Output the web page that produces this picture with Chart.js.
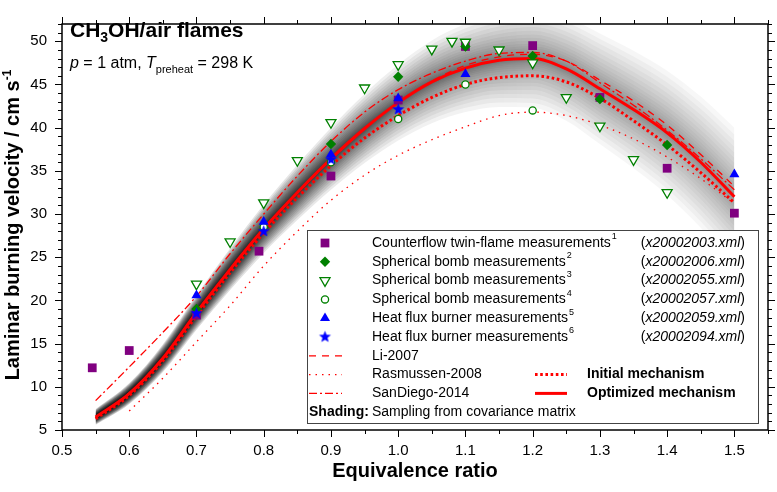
<!DOCTYPE html>
<html lang="en">
<head>
<meta charset="UTF-8">
<title>CH3OH/air flames</title>
<script src="https://cdn.jsdelivr.net/npm/chart.js"></script>
<style>
  html, body { margin: 0; padding: 0; background: #fff; }
</style>
</head>
<body>
<canvas id="flameChart" width="777" height="492"></canvas>
<script>
// ---- model curves (equivalence ratio grid) ----
const curvePhi = [0.55, 0.6, 0.65, 0.7, 0.75, 0.8, 0.85, 0.9, 0.95, 1.0, 1.05, 1.1, 1.15, 1.2, 1.25, 1.3, 1.35, 1.4, 1.45, 1.5];
const optimizedVel = [6.5, 9.2, 13.3, 18.6, 23.6, 28.3, 32.5, 36.4, 39.9, 42.9, 45.3, 46.9, 47.8, 48.0, 46.8, 44.5, 42.1, 39.4, 36.0, 32.0];
const initialVel = [6.3, 9.0, 13.0, 18.2, 23.2, 27.8, 31.9, 35.6, 38.8, 41.4, 43.5, 45.0, 45.8, 46.0, 45.3, 43.4, 40.8, 38.0, 34.8, 31.3];
const li2007Vel = [6.4, 9.3, 13.3, 18.5, 23.5, 28.2, 32.4, 36.3, 39.8, 42.9, 45.4, 47.2, 48.2, 48.5, 47.7, 45.5, 43.1, 40.3, 36.9, 33.2];
const sanDiegoVel = [8.4, 12.3, 16.3, 20.5, 25.4, 30.0, 34.4, 38.4, 41.8, 44.4, 46.3, 47.7, 48.6, 48.7, 47.7, 45.2, 42.6, 39.7, 36.4, 32.8];
const rasmussenPhi = [0.6, 0.65, 0.7, 0.75, 0.8, 0.85, 0.9, 0.95, 1.0, 1.05, 1.1, 1.15, 1.2, 1.25, 1.3, 1.35, 1.4, 1.45, 1.5];
const rasmussenVel = [7.2, 11.0, 15.2, 19.4, 24.0, 28.0, 31.6, 34.5, 36.8, 38.6, 40.1, 41.4, 41.8, 41.4, 40.3, 38.7, 36.6, 34.1, 31.2];
// half width of the sampled (covariance) band around the optimized curve
const shadeSpread = [0.9, 1.2, 1.6, 2.0, 2.4, 2.8, 3.2, 3.6, 4.0, 4.4, 4.8, 5.1, 5.4, 5.7, 6.0, 6.4, 6.8, 7.2, 7.6, 8.0];

// ---- measurements ----
const cfPhi = [0.545, 0.6, 0.7, 0.793, 0.9, 1.0, 1.1, 1.2, 1.3, 1.4, 1.5];
const cfVel = [12.2, 14.2, 18.3, 25.7, 34.4, 43.2, 49.4, 49.5, 43.5, 35.3, 30.1];
const sb2Phi = [0.7, 0.9, 1.0, 1.1, 1.2, 1.3, 1.4];
const sb2Vel = [19.0, 38.1, 45.9, 49.4, 48.3, 43.3, 38.0];
const sb3Phi = [0.7, 0.75, 0.8, 0.85, 0.9, 0.95, 1.0, 1.05, 1.08, 1.1, 1.15, 1.2, 1.25, 1.3, 1.35, 1.4];
const sb3Vel = [21.9, 26.8, 31.3, 36.2, 40.6, 44.6, 47.3, 49.1, 50.0, 49.9, 49.0, 47.5, 43.5, 40.2, 36.3, 32.5];
const sb4Phi = [0.8, 0.9, 1.0, 1.1, 1.2];
const sb4Vel = [28.5, 36.0, 41.0, 45.0, 42.0];
const hf5Phi = [0.7, 0.8, 0.9, 1.0, 1.1, 1.5];
const hf5Vel = [20.6, 29.1, 36.9, 43.4, 46.2, 34.6];
const hf6Phi = [0.7, 0.8, 0.9, 1.0];
const hf6Vel = [18.5, 28.0, 36.3, 42.1];

const FONT = '"Liberation Sans", Arial, sans-serif';
const PURPLE = '#800080', GREEN = '#008000', BLUE = '#0000ff', RED = '#ff0000';

function pts(xs, ys) {
    return xs.map((x, i) => ({ x: x, y: ys[i] }));
}

function makeStar(r, color) {
    let c = document.createElement('canvas');
    let s = Math.ceil(r * 2 + 2);
    c.width = s; c.height = s;
    let g = c.getContext('2d');
    g.fillStyle = color;
    g.beginPath();
    for (let i = 0; i < 10; i++) {
        let rr = i % 2 ? r * 0.42 : r;
        let a = -Math.PI / 2 + i * Math.PI / 5;
        g.lineTo(s / 2 + rr * Math.cos(a), s / 2 + rr * Math.sin(a));
    }
    g.closePath();
    g.fill();
    return c;
}
const starImg = makeStar(6.3, BLUE);

// grey fill that gets lighter towards rich mixtures
function shadeFill(context) {
    let chart = context.chart;
    if (!chart.chartArea) return 'rgba(0,0,0,0.05)';
    let xs = chart.scales.x;
    let g = chart.ctx.createLinearGradient(xs.getPixelForValue(0.55), 0, xs.getPixelForValue(1.5), 0);
    g.addColorStop(0, 'rgba(0,0,0,0.2)');
    g.addColorStop(0.26, 'rgba(0,0,0,0.11)');
    g.addColorStop(0.47, 'rgba(0,0,0,0.06)');
    g.addColorStop(0.68, 'rgba(0,0,0,0.04)');
    g.addColorStop(1, 'rgba(0,0,0,0.03)');
    return g;
}

let datasets = [];
const nBands = 20;
for (let k = nBands; k >= 1; k--) {
    // bands packed towards the curve so the grey fades out softly
    let f = Math.pow(k / nBands, 2);
    datasets.push({
        data: pts(curvePhi, optimizedVel.map((v, i) => v + shadeSpread[i] * f)),
        fill: '+1', backgroundColor: shadeFill, borderColor: 'transparent', borderWidth: 0,
        pointRadius: 0, cubicInterpolationMode: 'monotone', order: 100
    });
    datasets.push({
        data: pts(curvePhi, optimizedVel.map((v, i) => v - shadeSpread[i] * f)),
        fill: false, borderColor: 'transparent', borderWidth: 0,
        pointRadius: 0, cubicInterpolationMode: 'monotone', order: 100
    });
}

function curve(label, xs, ys, dash, width, order) {
    return {
        label: label, data: pts(xs, ys), borderColor: RED, borderWidth: width, borderDash: dash,
        pointRadius: 0, fill: false, cubicInterpolationMode: 'monotone', order: order
    };
}
const rasmussenSet = curve('Rasmussen-2008', rasmussenPhi, rasmussenVel, [1.5, 5], 1.3, 14);
const sanDiegoSet = curve('SanDiego-2014', curvePhi, sanDiegoVel, [8, 3, 2, 3], 1.3, 13);
const liSet = curve('Li-2007', curvePhi, li2007Vel, [7, 6], 1.3, 12);
const initialSet = curve('Initial mechanism', curvePhi, initialVel, [2.6, 2.6], 3, 11);
const optimizedSet = curve('Optimized mechanism', curvePhi, optimizedVel, [], 3, 10);
datasets.push(rasmussenSet, sanDiegoSet, liSet, initialSet, optimizedSet);

function markers(label, sup, file, xs, ys, style, opts) {
    return Object.assign({
        label: label, sup: sup, file: file, data: pts(xs, ys), showLine: false,
        pointStyle: style, pointBorderWidth: 0
    }, opts);
}
const markerSets = [
    markers('Counterflow twin-flame measurements', '1', 'x20002003.xml', cfPhi, cfVel, 'rect',
        { pointRadius: 6.2, pointBackgroundColor: PURPLE, pointBorderColor: PURPLE, order: 6 }),
    markers('Spherical bomb measurements', '2', 'x20002006.xml', sb2Phi, sb2Vel, 'rectRot',
        { pointRadius: 5.2, pointBackgroundColor: GREEN, pointBorderColor: GREEN, order: 5 }),
    markers('Spherical bomb measurements', '3', 'x20002055.xml', sb3Phi, sb3Vel, 'triangle',
        { pointRadius: 5.8, pointRotation: 180, pointBackgroundColor: '#fff', pointBorderColor: GREEN, pointBorderWidth: 1.3, order: 4 }),
    markers('Spherical bomb measurements', '4', 'x20002057.xml', sb4Phi, sb4Vel, 'circle',
        { pointRadius: 3.6, pointBackgroundColor: '#fff', pointBorderColor: GREEN, pointBorderWidth: 1.3, order: 3 }),
    markers('Heat flux burner measurements', '5', 'x20002059.xml', hf5Phi, hf5Vel, 'triangle',
        { pointRadius: 5.8, pointBackgroundColor: BLUE, pointBorderColor: BLUE, order: 2 }),
    markers('Heat flux burner measurements', '6', 'x20002094.xml', hf6Phi, hf6Vel, starImg,
        { pointRadius: 6, pointBackgroundColor: BLUE, pointBorderColor: BLUE, order: 1 })
];
datasets.push(...markerSets);

// frame, ticks on all four sides, titles and the legend box
const decorations = {
    id: 'decorations',
    afterDraw(chart) {
        let ctx = chart.ctx;
        let a = chart.chartArea;
        let xs = chart.scales.x, ys = chart.scales.y;
        ctx.save();
        ctx.strokeStyle = '#000';
        ctx.lineWidth = 1;
        ctx.beginPath();
        for (let i = 0; i <= 21; i++) {
            let v = 0.5 + i * 0.05;
            let px = Math.round(xs.getPixelForValue(v)) + 0.5;
            let len = i % 2 === 0 ? 7 : 4;
            ctx.moveTo(px, a.bottom); ctx.lineTo(px, a.bottom + len);
            ctx.moveTo(px, a.top); ctx.lineTo(px, a.top - len);
        }
        for (let v = 5; v <= 52; v++) {
            let py = Math.round(ys.getPixelForValue(v)) + 0.5;
            let len = v % 5 === 0 ? 7 : 4;
            ctx.moveTo(a.left, py); ctx.lineTo(a.left - len, py);
            ctx.moveTo(a.right, py); ctx.lineTo(a.right + len, py);
        }
        ctx.stroke();
        ctx.lineWidth = 1.5;
        ctx.strokeRect(a.left, a.top, a.right - a.left, a.bottom - a.top);

        // axis titles
        ctx.fillStyle = '#000';
        ctx.textBaseline = 'alphabetic';
        ctx.textAlign = 'center';
        ctx.font = 'bold 20px ' + FONT;
        ctx.fillText('Equivalence ratio', (a.left + a.right) / 2, 477);

        ctx.save();
        ctx.translate(19, 225);
        ctx.rotate(-Math.PI / 2);
        let main = 'Laminar burning velocity / cm s';
        ctx.font = 'bold 20px ' + FONT;
        let w1 = ctx.measureText(main).width;
        ctx.font = 'bold 12px ' + FONT;
        let w2 = ctx.measureText('-1').width;
        let x0 = -(w1 + w2) / 2;
        ctx.textAlign = 'left';
        ctx.font = 'bold 20px ' + FONT;
        ctx.fillText(main, x0, 0);
        ctx.font = 'bold 12px ' + FONT;
        ctx.fillText('-1', x0 + w1, -8);
        ctx.restore();

        // title block
        ctx.textAlign = 'left';
        let x = 70;
        ctx.font = 'bold 21px ' + FONT;
        ctx.fillText('CH', x, 37); x += ctx.measureText('CH').width;
        ctx.font = 'bold 14px ' + FONT;
        ctx.fillText('3', x, 42); x += ctx.measureText('3').width;
        ctx.font = 'bold 21px ' + FONT;
        ctx.fillText('OH/air flames', x, 37);

        x = 70;
        ctx.font = 'italic 16px ' + FONT;
        ctx.fillText('p', x, 68); x += ctx.measureText('p').width;
        ctx.font = '16px ' + FONT;
        ctx.fillText(' = 1 atm, ', x, 68); x += ctx.measureText(' = 1 atm, ').width;
        ctx.font = 'italic 16px ' + FONT;
        ctx.fillText('T', x, 68); x += ctx.measureText('T').width;
        ctx.font = '11px ' + FONT;
        ctx.fillText('preheat', x, 73); x += ctx.measureText('preheat').width;
        ctx.font = '16px ' + FONT;
        ctx.fillText(' = 298 K', x, 68);

        // legend box
        ctx.fillStyle = '#fff';
        ctx.fillRect(307, 230, 451, 193);
        ctx.strokeStyle = '#444';
        ctx.lineWidth = 1;
        ctx.strokeRect(307.5, 230.5, 451, 193);

        let rowY = i => 243 + i * 18.8;
        ctx.textBaseline = 'middle';
        markerSets.forEach((ds, i) => {
            let y = rowY(i);
            ctx.fillStyle = ds.pointBackgroundColor;
            ctx.strokeStyle = ds.pointBorderColor;
            ctx.lineWidth = ds.pointBorderWidth;
            Chart.helpers.drawPoint(ctx, {
                pointStyle: ds.pointStyle, rotation: ds.pointRotation || 0,
                radius: ds.pointRadius, borderWidth: ds.pointBorderWidth
            }, 325, y);
            ctx.fillStyle = '#000';
            ctx.textAlign = 'left';
            ctx.font = '14px ' + FONT;
            ctx.fillText(ds.label, 372, y);
            let lw = ctx.measureText(ds.label).width;
            ctx.font = '9px ' + FONT;
            ctx.fillText(ds.sup, 372 + lw + 1, y - 6);
            ctx.textAlign = 'right';
            ctx.font = '14px ' + FONT;
            ctx.fillText(')', 745, y);
            let pw = ctx.measureText(')').width;
            ctx.font = 'italic 14px ' + FONT;
            ctx.fillText(ds.file, 745 - pw, y);
            let fw = ctx.measureText(ds.file).width;
            ctx.font = '14px ' + FONT;
            ctx.fillText('(', 745 - pw - fw, y);
        });

        function lineSample(ds, x1, x2, y) {
            ctx.save();
            ctx.strokeStyle = ds.borderColor;
            ctx.lineWidth = ds.borderWidth;
            ctx.setLineDash(ds.borderDash);
            ctx.beginPath();
            ctx.moveTo(x1, y); ctx.lineTo(x2, y);
            ctx.stroke();
            ctx.restore();
        }
        ctx.textAlign = 'left';
        [liSet, rasmussenSet, sanDiegoSet].forEach((ds, i) => {
            let y = rowY(6 + i);
            lineSample(ds, 309, 342, y);
            ctx.fillStyle = '#000';
            ctx.font = '14px ' + FONT;
            ctx.fillText(ds.label, 372, y);
        });
        [initialSet, optimizedSet].forEach((ds, i) => {
            let y = rowY(7 + i);
            lineSample(ds, 535, 567, y);
            ctx.fillStyle = '#000';
            ctx.font = 'bold 14px ' + FONT;
            ctx.fillText(ds.label, 587, y);
        });
        let y = rowY(9);
        ctx.font = 'bold 14px ' + FONT;
        ctx.fillText('Shading:', 309, y);
        ctx.font = '14px ' + FONT;
        ctx.fillText('Sampling from covariance matrix', 372, y);
        ctx.restore();
    }
};

new Chart(document.getElementById('flameChart'), {
    type: 'line',
    data: { datasets: datasets },
    options: {
        responsive: false,
        devicePixelRatio: 1,
        animation: false,
        layout: { padding: { top: 8, right: 9, left: 0, bottom: 0 } },
        plugins: { legend: { display: false }, tooltip: { enabled: false } },
        scales: {
            x: {
                type: 'linear', min: 0.5, max: 1.55,
                afterFit: s => { s.height = 62; },
                grid: { display: false, drawTicks: false },
                border: { display: false },
                ticks: {
                    stepSize: 0.1, includeBounds: false, autoSkip: false, maxRotation: 0,
                    color: '#000', padding: 12, font: { family: FONT, size: 15 },
                    callback: v => v.toFixed(1)
                }
            },
            y: {
                type: 'linear', min: 5, max: 52,
                afterFit: s => { s.width = 62; },
                grid: { display: false, drawTicks: false },
                border: { display: false },
                ticks: {
                    stepSize: 5, includeBounds: false,
                    color: '#000', padding: 15, font: { family: FONT, size: 15 },
                    callback: v => String(Math.round(v))
                }
            }
        }
    },
    plugins: [decorations]
});
</script>
</body>
</html>
